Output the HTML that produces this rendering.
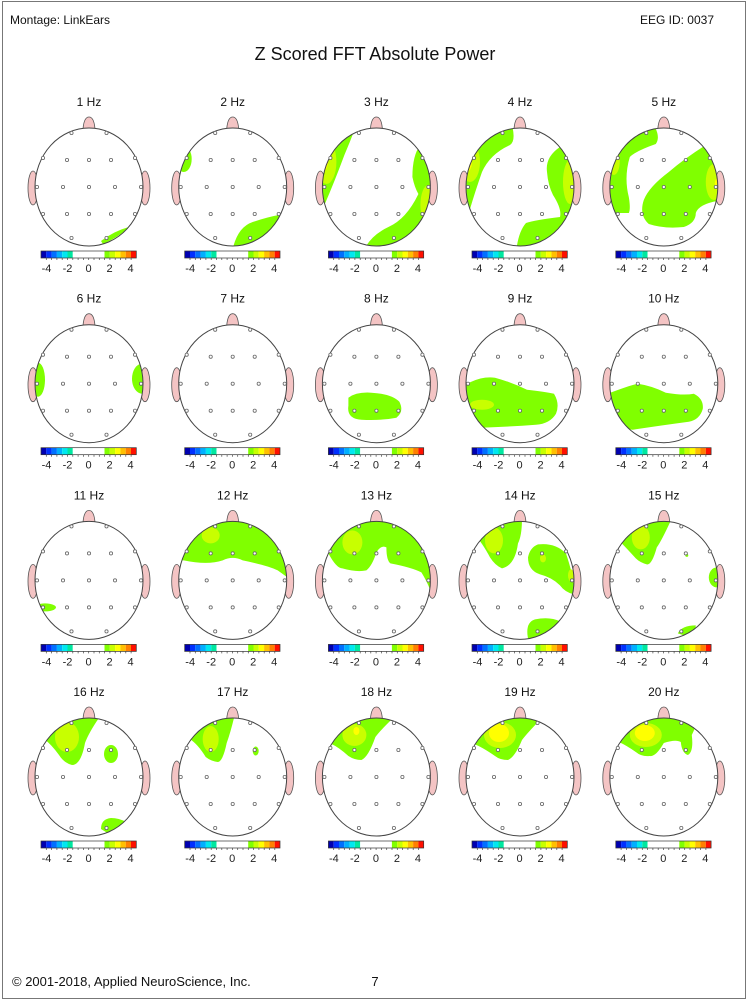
<!DOCTYPE html>
<html><head><meta charset="utf-8"><style>
html,body{margin:0;padding:0;background:#fff;}
svg{display:block;font-family:"Liberation Sans",Arial,sans-serif;}
</style></head><body>
<svg width="750" height="1003" viewBox="0 0 750 1003" xmlns="http://www.w3.org/2000/svg">
<defs>
<clipPath id="hc"><ellipse cx="0" cy="0" rx="54" ry="59"/></clipPath>
<g id="bg">
<ellipse cx="-56" cy="1" rx="5" ry="17" fill="#f4c4c4" stroke="#555" stroke-width="0.8"/>
<ellipse cx="56" cy="1" rx="5" ry="17" fill="#f4c4c4" stroke="#555" stroke-width="0.8"/>
<path d="M-6,-58 Q-5,-70 0,-70 Q5,-70 6,-58 Z" fill="#f4c4c4" stroke="#555" stroke-width="0.8"/>
<ellipse cx="0" cy="0" rx="54" ry="59" fill="#fff"/>
</g>
<g id="fg">
<ellipse cx="0" cy="0" rx="54" ry="59" fill="none" stroke="#444" stroke-width="1"/>
<g fill="#fff" stroke="#666" stroke-width="0.8">
<circle cx="-17.5" cy="-54" r="1.6"/><circle cx="17.5" cy="-54" r="1.6"/>
<circle cx="-46" cy="-29" r="1.6"/><circle cx="-22" cy="-27" r="1.6"/><circle cx="0" cy="-27" r="1.6"/><circle cx="22" cy="-27" r="1.6"/><circle cx="46" cy="-29" r="1.6"/>
<circle cx="-52" cy="0" r="1.6"/><circle cx="-26" cy="0" r="1.6"/><circle cx="0" cy="0" r="1.6"/><circle cx="26" cy="0" r="1.6"/><circle cx="52" cy="0" r="1.6"/>
<circle cx="-46" cy="27" r="1.6"/><circle cx="-22" cy="27" r="1.6"/><circle cx="0" cy="27" r="1.6"/><circle cx="22" cy="27" r="1.6"/><circle cx="46" cy="27" r="1.6"/>
<circle cx="-17.5" cy="51" r="1.6"/><circle cx="17.5" cy="51" r="1.6"/>
</g>
<g transform="translate(-48,64)">
<rect x="0" y="0" width="5.3" height="7" fill="#0000b0"/>
<rect x="5.3" y="0" width="5.3" height="7" fill="#0030ff"/>
<rect x="10.6" y="0" width="5.3" height="7" fill="#0070ff"/>
<rect x="15.9" y="0" width="5.3" height="7" fill="#00b0ff"/>
<rect x="21.2" y="0" width="5.3" height="7" fill="#00e8f0"/>
<rect x="26.5" y="0" width="5.3" height="7" fill="#00e8a0"/>
<rect x="31.8" y="0" width="31.7" height="7" fill="#fff"/>
<rect x="63.5" y="0" width="5.3" height="7" fill="#80ff00"/>
<rect x="68.8" y="0" width="5.3" height="7" fill="#c8ff00"/>
<rect x="74.1" y="0" width="5.3" height="7" fill="#ffff00"/>
<rect x="79.4" y="0" width="5.3" height="7" fill="#ffc000"/>
<rect x="84.7" y="0" width="5.3" height="7" fill="#ff8000"/>
<rect x="90" y="0" width="5.3" height="7" fill="#ff1000"/>
<rect x="0" y="0" width="95.3" height="7" fill="none" stroke="#333" stroke-width="0.7"/>
<path d="M5.3,7v2M10.6,7v2M15.9,7v2M21.2,7v2M26.5,7v2M31.8,7v2M37.1,7v2M42.4,7v2M47.7,7v2M53,7v2M58.3,7v2M63.6,7v2M68.9,7v2M74.2,7v2M79.5,7v2M84.8,7v2M90.1,7v2" stroke="#444" stroke-width="0.7"/>
<g font-size="11" fill="#222" text-anchor="middle">
<text x="5.5" y="21">-4</text><text x="26.5" y="21">-2</text><text x="47.5" y="21">0</text><text x="68.5" y="21">2</text><text x="89.5" y="21">4</text>
</g>
</g>
</g>
</defs>

<rect x="2.5" y="1.5" width="743" height="997" fill="none" stroke="#777" stroke-width="1"/>
<text x="10" y="24" font-size="12" fill="#111">Montage:  LinkEars</text>
<text x="714" y="24" font-size="12" fill="#111" text-anchor="end">EEG ID:  0037</text>
<text x="375" y="60" font-size="18" fill="#111" text-anchor="middle">Z Scored FFT Absolute Power</text>
<text x="12" y="986" font-size="13" fill="#111">© 2001-2018, Applied NeuroScience, Inc.</text>
<text x="375" y="986" font-size="13" fill="#111" text-anchor="middle">7</text>

<g fill="#80ff00">
<!-- Row 1 -->
<g transform="translate(89,187)"><use href="#bg"/><g clip-path="url(#hc)">
<path d="M12,54 Q25,44 40,40 Q30,50 14,57 Z"/></g><use href="#fg"/><text x="0" y="-81" font-size="12" fill="#111" text-anchor="middle">1 Hz</text></g>

<g transform="translate(232.7,187)"><use href="#bg"/><g clip-path="url(#hc)">
<ellipse cx="-49" cy="-28" rx="8" ry="13"/>
<path d="M0,62 Q5,40 20,35 Q35,30 46,28 L60,30 L60,62 Z"/></g><use href="#fg"/><text x="0" y="-81" font-size="12" fill="#111" text-anchor="middle">2 Hz</text></g>

<g transform="translate(376.4,187)"><use href="#bg"/><g clip-path="url(#hc)">
<path d="M-20,-62 Q-26,-46 -32,-32 Q-42,-5 -52,18 L-60,18 L-60,-62 Z"/>
<ellipse cx="-50" cy="-25" rx="10" ry="22" fill="#c8ff00"/>
<ellipse cx="-53" cy="-28" rx="5" ry="12" fill="#ffff00"/>
<path d="M44,-42 Q36,-32 36,-10 Q38,0 42,7 Q30,32 12,40 Q-5,48 -12,62 L60,62 L60,-42 Z"/>
<ellipse cx="52" cy="18" rx="8" ry="20" fill="#c8ff00"/>
<ellipse cx="55" cy="24" rx="4" ry="8" fill="#ffff00"/></g><use href="#fg"/><text x="0" y="-81" font-size="12" fill="#111" text-anchor="middle">3 Hz</text></g>

<g transform="translate(520,187)"><use href="#bg"/><g clip-path="url(#hc)">
<path d="M-8,-62 Q-4,-46 -10,-42 Q-30,-33 -38,-15 Q-45,5 -50,22 L-60,22 L-60,-62 Z"/>
<ellipse cx="-50" cy="-25" rx="10" ry="20" fill="#c8ff00"/>
<ellipse cx="-53" cy="-26" rx="5" ry="11" fill="#ffff00"/>
<path d="M40,-40 Q25,-30 27,-15 Q28,-2 33,8 Q42,22 40,30 Q15,33 6,36 Q-2,45 -4,66 L60,66 L60,-40 Z"/>
<ellipse cx="50" cy="-5" rx="7" ry="22" fill="#c8ff00"/></g><use href="#fg"/><text x="0" y="-81" font-size="12" fill="#111" text-anchor="middle">4 Hz</text></g>

<g transform="translate(663.8,187)"><use href="#bg"/><g clip-path="url(#hc)">
<path d="M-10,-62 Q-3,-50 -8,-43 Q-28,-36 -34,-30 Q-40,-10 -35,10 Q-33,22 -35,26 L-60,26 L-60,-62 Z"/>
<ellipse cx="-50" cy="-26" rx="6" ry="14" fill="#c8ff00"/>
<path d="M42,-42 Q20,-28 5,-15 Q-15,0 -20,13 Q-25,28 -15,37 Q0,42 20,40 Q32,36 32,26 Q35,16 60,13 L60,-42 Z"/>
<ellipse cx="50" cy="-5" rx="8" ry="18" fill="#c8ff00"/>
<ellipse cx="54" cy="-3" rx="3" ry="6" fill="#ffff00"/></g><use href="#fg"/><text x="0" y="-81" font-size="12" fill="#111" text-anchor="middle">5 Hz</text></g>

<!-- Row 2 -->
<g transform="translate(89,383.7)"><use href="#bg"/><g clip-path="url(#hc)">
<ellipse cx="-51" cy="-4" rx="7" ry="17"/>
<ellipse cx="53" cy="-5" rx="10" ry="15"/></g><use href="#fg"/><text x="0" y="-81" font-size="12" fill="#111" text-anchor="middle">6 Hz</text></g>

<g transform="translate(232.7,383.7)"><use href="#bg"/><use href="#fg"/><text x="0" y="-81" font-size="12" fill="#111" text-anchor="middle">7 Hz</text></g>

<g transform="translate(376.4,383.7)"><use href="#bg"/><g clip-path="url(#hc)">
<path d="M-28,14 Q-20,8 -5,9 Q15,10 23,18 Q28,28 20,34 Q5,37 -15,36 Q-30,35 -28,22 Z"/></g><use href="#fg"/><text x="0" y="-81" font-size="12" fill="#111" text-anchor="middle">8 Hz</text></g>

<g transform="translate(520,383.7)"><use href="#bg"/><g clip-path="url(#hc)">
<path d="M-56,2 Q-40,-8 -25,-6 Q-10,-2 7,6 Q25,8 34,10 Q40,20 36,30 Q30,40 16,41 Q-10,43 -39,44 Q-52,40 -56,30 Z"/>
<ellipse cx="-38" cy="21" rx="12" ry="5" fill="#c8ff00"/></g><use href="#fg"/><text x="0" y="-81" font-size="12" fill="#111" text-anchor="middle">9 Hz</text></g>

<g transform="translate(663.8,383.7)"><use href="#bg"/><g clip-path="url(#hc)">
<path d="M-56,10 Q-35,2 -26,0 Q-12,2 2,9 Q20,12 30,10 Q40,15 39,25 Q36,36 25,38 Q-5,42 -31,46 Q-48,45 -56,35 Z"/></g><use href="#fg"/><text x="0" y="-81" font-size="12" fill="#111" text-anchor="middle">10 Hz</text></g>

<!-- Row 3 -->
<g transform="translate(89,580.4)"><use href="#bg"/><g clip-path="url(#hc)">
<ellipse cx="-44" cy="27" rx="11" ry="4"/></g><use href="#fg"/><text x="0" y="-81" font-size="12" fill="#111" text-anchor="middle">11 Hz</text></g>

<g transform="translate(232.7,580.4)"><use href="#bg"/><g clip-path="url(#hc)">
<path d="M-60,-20 L-49,-20 Q-25,-15 -10,-20 Q0,-25 10,-20 Q35,-15 45,-10 Q52,-5 56,-2 L60,-70 L-60,-70 Z"/>
<ellipse cx="-22" cy="-45" rx="9" ry="8" fill="#c8ff00"/></g><use href="#fg"/><text x="0" y="-81" font-size="12" fill="#111" text-anchor="middle">12 Hz</text></g>

<g transform="translate(376.4,580.4)"><use href="#bg"/><g clip-path="url(#hc)">
<path d="M-60,-30 L-48,-27 Q-40,-12 -34,-12 Q-20,-8 -10,-10 Q-4,-15 0,-28 Q5,-36 10,-33 Q10,-20 14,-17 Q35,-13 45,-8 Q50,0 54,10 L60,10 L60,-70 L-60,-70 Z"/>
<ellipse cx="-24" cy="-38" rx="10" ry="12" fill="#c8ff00"/></g><use href="#fg"/><text x="0" y="-81" font-size="12" fill="#111" text-anchor="middle">13 Hz</text></g>

<g transform="translate(520,580.4)"><use href="#bg"/><g clip-path="url(#hc)">
<path d="M-45,-45 L-20,-62 L2,-62 Q2,-45 -2,-37 Q-5,-15 -18,-12 Q-25,-15 -30,-23 Q-38,-38 -45,-45 Z"/>
<ellipse cx="-26" cy="-40" rx="9" ry="13" fill="#c8ff00"/>
<path d="M8,-23 Q10,-33 18,-36 Q35,-38 46,-27 Q55,0 54,14 Q45,12 40,5 Q32,-3 20,-6 Q8,-10 8,-23 Z"/>
<ellipse cx="23" cy="-22" rx="3" ry="4" fill="#c8ff00"/>
<ellipse cx="51" cy="-5" rx="3" ry="6" fill="#c8ff00"/>
<path d="M8,58 Q5,42 15,39 Q30,36 40,41 L30,60 Z"/></g><use href="#fg"/><text x="0" y="-81" font-size="12" fill="#111" text-anchor="middle">14 Hz</text></g>

<g transform="translate(663.8,580.4)"><use href="#bg"/><g clip-path="url(#hc)">
<path d="M-45,-40 L-20,-62 L8,-62 Q-2,-40 -7,-33 Q-12,-15 -17,-16 Q-24,-18 -28,-22 Q-38,-33 -45,-40 Z"/>
<ellipse cx="-23" cy="-43" rx="9" ry="12" fill="#c8ff00"/>
<circle cx="23" cy="-25" r="1.5"/>
<ellipse cx="53" cy="-3" rx="8" ry="10"/>
<path d="M14,53 Q18,45 32,45 L30,58 Z"/></g><use href="#fg"/><text x="0" y="-81" font-size="12" fill="#111" text-anchor="middle">15 Hz</text></g>

<!-- Row 4 -->
<g transform="translate(89,777)"><use href="#bg"/><g clip-path="url(#hc)">
<path d="M-45,-38 L-25,-62 L12,-62 Q0,-45 -4,-34 Q-8,-12 -17,-12 Q-25,-14 -30,-22 Q-38,-33 -45,-38 Z"/>
<ellipse cx="-22" cy="-40" rx="12" ry="15" fill="#c8ff00"/>
<ellipse cx="22" cy="-23" rx="7" ry="9"/>
<path d="M12,52 Q12,42 22,41 Q30,41 37,45 L25,60 Z"/></g><use href="#fg"/><text x="0" y="-81" font-size="12" fill="#111" text-anchor="middle">16 Hz</text></g>

<g transform="translate(232.7,777)"><use href="#bg"/><g clip-path="url(#hc)">
<path d="M-43,-38 L-25,-62 L2,-62 Q-2,-45 -6,-34 Q-10,-15 -15,-15 Q-22,-16 -27,-20 Q-35,-33 -43,-38 Z"/>
<ellipse cx="-22" cy="-38" rx="8" ry="13" fill="#c8ff00"/>
<ellipse cx="23" cy="-26" rx="3" ry="4.5"/></g><use href="#fg"/><text x="0" y="-81" font-size="12" fill="#111" text-anchor="middle">17 Hz</text></g>

<g transform="translate(376.4,777)"><use href="#bg"/><g clip-path="url(#hc)">
<path d="M-45,-33 L-30,-62 L20,-62 Q5,-48 -1,-40 Q-8,-20 -15,-17 Q-22,-17 -28,-21 Q-38,-30 -45,-33 Z"/>
<ellipse cx="-22" cy="-42" rx="12" ry="11" fill="#c8ff00"/>
<ellipse cx="-20" cy="-46" rx="3" ry="4" fill="#ffff00"/></g><use href="#fg"/><text x="0" y="-81" font-size="12" fill="#111" text-anchor="middle">18 Hz</text></g>

<g transform="translate(520,777)"><use href="#bg"/><g clip-path="url(#hc)">
<path d="M-46,-33 L-30,-62 L25,-62 Q8,-45 2,-37 Q-5,-20 -12,-17 Q-20,-17 -25,-21 Q-38,-30 -46,-33 Z"/>
<ellipse cx="-20" cy="-42" rx="16" ry="13" fill="#c8ff00"/>
<ellipse cx="-21" cy="-44" rx="10" ry="9" fill="#ffff00"/></g><use href="#fg"/><text x="0" y="-81" font-size="12" fill="#111" text-anchor="middle">19 Hz</text></g>

<g transform="translate(663.8,777)"><use href="#bg"/><g clip-path="url(#hc)">
<path d="M-45,-35 L-30,-62 L35,-62 Q32,-50 28,-42 Q30,-25 24,-22 Q18,-24 17,-35 Q12,-38 0,-34 Q-8,-20 -14,-21 Q-22,-20 -28,-25 Q-38,-32 -45,-35 Z"/>
<ellipse cx="-18" cy="-42" rx="16" ry="12" fill="#c8ff00"/>
<ellipse cx="-19" cy="-44" rx="10" ry="8" fill="#ffff00"/></g><use href="#fg"/><text x="0" y="-81" font-size="12" fill="#111" text-anchor="middle">20 Hz</text></g>
</g>
</svg>
</body></html>
